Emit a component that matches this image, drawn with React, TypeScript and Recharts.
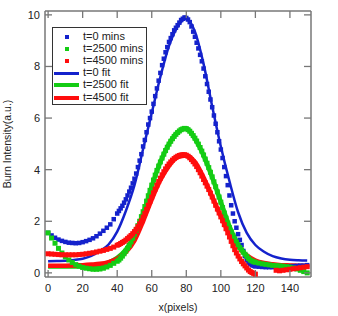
import { ComposedChart, Scatter, Line, XAxis, YAxis } from 'recharts';

// sample positions (pixels) of the measured profiles
const xPixels = [
  0, 2, 4, 6, 8, 10, 12, 14, 16, 18, 20, 22, 24, 26, 28, 30, 32, 34, 36, 38,
  40, 41, 42, 43, 44, 45, 46, 47, 48, 49, 50, 51, 52, 53, 54, 55, 56, 57, 58, 59,
  60, 61, 62, 63, 64, 65, 66, 67, 68, 69, 70, 71, 72, 73, 74, 75, 76, 77, 78, 79,
  80, 81, 82, 83, 84, 85, 86, 87, 88, 89, 90, 91, 92, 93, 94, 95, 96, 97, 98, 99,
  100, 101, 102, 103, 104, 105, 106, 107, 108, 109, 110, 111, 112, 113, 114, 115, 116, 117, 118, 119,
  120, 122, 124, 126, 128, 130, 132, 134, 136, 138, 140, 142, 144, 146, 148, 150,
];

const t0 = [
  1.55, 1.45, 1.36, 1.29, 1.24, 1.2, 1.17, 1.16, 1.15, 1.16, 1.19, 1.23, 1.28, 1.34, 1.42, 1.52, 1.63, 1.75, 1.88, 2.08,
  2.3, 2.4, 2.5, 2.6, 2.72, 2.85, 3.0, 3.15, 3.3, 3.47, 3.65, 3.85, 4.1, 4.35, 4.6, 4.9, 5.15, 5.45, 5.75, 6.0,
  6.25, 6.55, 6.85, 7.15, 7.45, 7.75, 8.05, 8.3, 8.55, 8.75, 8.95, 9.1, 9.25, 9.4, 9.5, 9.6, 9.7, 9.8, 9.85, 9.9,
  9.88, 9.82, 9.72, 9.55, 9.35, 9.15, 8.92, 8.7, 8.45, 8.2, 7.92, 7.62, 7.32, 7.02, 6.72, 6.42, 6.1, 5.78, 5.45, 5.1,
  4.78, 4.45, 4.1, 3.75, 3.4, 3.0, 2.62, 2.3, 2.0, 1.75, 1.5, 1.28, 1.08, 0.85, 0.65, 0.5, 0.4, 0.34, 0.3, 0.27,
  0.25, 0.24, 0.23, 0.22, 0.22, 0.22, 0.23, 0.24, 0.24, 0.25, 0.25, 0.26, 0.27, 0.28, 0.28, 0.3,
];

const t2500 = [
  1.55, 1.35, 1.15, 0.95, 0.77, 0.62, 0.5, 0.4, 0.32, 0.26, 0.21, 0.18, 0.16, 0.14, 0.14, 0.15, 0.18, 0.23, 0.29, 0.37,
  0.45, 0.5, 0.57, 0.65, 0.74, 0.84, 0.95, 1.07, 1.2, 1.34, 1.5, 1.66, 1.83, 2.0, 2.18, 2.37, 2.57, 2.78, 2.99, 3.2,
  3.4, 3.6, 3.79, 3.97, 4.14, 4.3, 4.45, 4.6, 4.74, 4.87, 4.99, 5.1, 5.2, 5.29, 5.37, 5.44, 5.5, 5.55, 5.58, 5.6,
  5.59, 5.55, 5.49, 5.41, 5.32, 5.22, 5.11, 4.99, 4.86, 4.72, 4.57, 4.41, 4.25, 4.08, 3.9, 3.72, 3.53, 3.34, 3.14, 2.94,
  2.74, 2.53, 2.32, 2.12, 1.93, 1.75, 1.59, 1.44, 1.31, 1.19, 1.08, 0.98, 0.89, 0.8, 0.72, 0.64, 0.56, 0.5, 0.46, 0.43,
  0.41, 0.38, 0.35, 0.33, 0.31, 0.29, 0.28, 0.27, 0.26, 0.24, 0.22, 0.19, 0.15, 0.1, 0.05, 0.0,
];

const t4500 = [
  0.74, 0.73, 0.72, 0.71, 0.7, 0.7, 0.7, 0.7, 0.7, 0.71, 0.72, 0.74, 0.76, 0.78, 0.81, 0.84, 0.87, 0.91, 0.95, 1.0,
  1.07, 1.1, 1.14, 1.18, 1.22, 1.27, 1.33, 1.39, 1.45, 1.52, 1.6, 1.69, 1.79, 1.9, 2.02, 2.16, 2.31, 2.46, 2.62, 2.78,
  2.94, 3.1, 3.25, 3.4, 3.54, 3.67, 3.8, 3.92, 4.03, 4.13, 4.22, 4.3, 4.37, 4.43, 4.48, 4.52, 4.55, 4.57, 4.58, 4.58,
  4.56, 4.52, 4.46, 4.39, 4.31, 4.22, 4.12, 4.0, 3.88, 3.75, 3.62, 3.49, 3.36, 3.23, 3.09, 2.94, 2.78, 2.62, 2.47, 2.32,
  2.17, 2.02, 1.87, 1.71, 1.55, 1.39, 1.22, 1.05, 0.9, 0.77, 0.65, 0.54, 0.44, 0.35, 0.27, 0.19, 0.11, 0.05, 0.01, -0.02,
  -0.05, null, null, null, null, null, 0.1, 0.08, 0.1, 0.12, 0.14, 0.16, 0.18, 0.2, 0.22, 0.24,
];

// fitted curves
const fitX = [0, 5, 10, 15, 20, 25, 30, 35, 40, 45, 50, 55, 60, 65, 70, 75, 80, 85, 90, 95, 100, 105, 110, 115, 120, 125, 130, 135, 140, 145, 150];
const fit0 = [0.45, 0.46, 0.47, 0.5, 0.55, 0.66, 0.85, 1.1, 1.6, 2.4, 3.4, 4.8, 6.2, 7.6, 8.8, 9.55, 9.85, 9.35, 8.1, 6.45, 4.9, 3.55, 2.35, 1.55, 1.08, 0.82, 0.65, 0.56, 0.51, 0.49, 0.48];
const fit2500 = [0.25, 0.25, 0.25, 0.25, 0.25, 0.27, 0.3, 0.4, 0.58, 0.9, 1.45, 2.3, 3.35, 4.3, 5.0, 5.45, 5.6, 5.2, 4.55, 3.7, 2.75, 1.8, 1.1, 0.65, 0.45, 0.35, 0.3, 0.28, 0.27, 0.26, 0.25];
const fit4500 = [0.28, 0.28, 0.28, 0.29, 0.3, 0.32, 0.35, 0.42, 0.55, 0.8, 1.25, 2.0, 2.85, 3.6, 4.15, 4.48, 4.55, 4.3, 3.7, 2.95, 2.2, 1.5, 1.02, 0.68, 0.48, 0.38, 0.33, 0.3, 0.29, 0.28, 0.28];

const xTicks = [0, 20, 40, 60, 80, 100, 120, 140];
const yTicks = [0, 2, 4, 6, 8, 10];

const BLUE = '#1422cc';
const GREEN = '#14cc14';
const RED = '#ff0d0d';
const FRAME = '#777';
const FONT = '"Liberation Sans", Arial, sans-serif';

const points = (ys: (number | null)[]) =>
  xPixels.map((x, i) => ({ x, y: ys[i] })).filter((p) => p.y !== null);
const fitPoints = (ys: number[]) => fitX.map((x, i) => ({ x, y: ys[i] }));

const square = (color: string, s: number) => (p: any) =>
  <rect x={p.cx - s / 2} y={p.cy - s / 2} width={s} height={s} fill={color} />;

const BottomTick = ({ x, y, payload }: any) => (
  <g>
    <line x1={x} x2={x} y1={y} y2={y - 7} stroke={FRAME} strokeWidth={1.3} />
    <text x={x} y={y + 15} textAnchor="middle" fontSize={11} fill="#222" fontFamily={FONT}>{payload.value}</text>
  </g>
);
const TopTick = ({ x, y }: any) => <line x1={x} x2={x} y1={y} y2={y + 7} stroke={FRAME} strokeWidth={1.3} />;
const LeftTick = ({ x, y, payload }: any) => (
  <g>
    <line x1={x} x2={x + 7} y1={y} y2={y} stroke={FRAME} strokeWidth={1.3} />
    <text x={x - 5} y={y + 4} textAnchor="end" fontSize={11} fill="#222" fontFamily={FONT}>{payload.value}</text>
  </g>
);
const RightTick = ({ x, y }: any) => <line x1={x} x2={x - 7} y1={y} y2={y} stroke={FRAME} strokeWidth={1.3} />;

const legendRows = [
  { label: 't=0 mins', color: BLUE, kind: 'marker', w: 0 },
  { label: 't=2500 mins', color: GREEN, kind: 'marker', w: 0 },
  { label: 't=4500 mins', color: RED, kind: 'marker', w: 0 },
  { label: 't=0 fit', color: BLUE, kind: 'line', w: 2.5 },
  { label: 't=2500 fit', color: GREEN, kind: 'line', w: 4 },
  { label: 't=4500 fit', color: RED, kind: 'line', w: 4 },
];

const App = () => {
  const axisLine = { stroke: FRAME, strokeWidth: 1.5 };
  return (
    <div style={{ position: 'absolute', left: 0, top: 0, width: 338, height: 316, background: '#fff' }}>
      <ComposedChart width={338} height={316} margin={{ top: 6, right: 22, bottom: 9, left: 5 }}>
        <XAxis dataKey="x" type="number" domain={[-1.8, 152.2]} ticks={xTicks} allowDataOverflow
          height={30} tickSize={0} tickMargin={0} tickLine={false} axisLine={axisLine} tick={<BottomTick />} />
        <XAxis xAxisId="top" orientation="top" dataKey="x" type="number" domain={[-1.8, 152.2]} ticks={xTicks} allowDataOverflow
          height={5} tickSize={0} tickMargin={0} tickLine={false} axisLine={axisLine} tick={<TopTick />} />
        <YAxis type="number" domain={[-0.16, 10.15]} ticks={yTicks} allowDataOverflow
          width={40} tickSize={0} tickMargin={0} tickLine={false} axisLine={axisLine} tick={<LeftTick />} />
        <YAxis yAxisId="right" orientation="right" type="number" domain={[-0.16, 10.15]} ticks={yTicks} allowDataOverflow
          width={5} tickSize={0} tickMargin={0} tickLine={false} axisLine={axisLine} tick={<RightTick />} />

        <Scatter data={points(t0)} dataKey="y" fill={BLUE} shape={square(BLUE, 4.5)} isAnimationActive={false} />
        <Scatter data={points(t2500)} dataKey="y" fill={GREEN} shape={square(GREEN, 5)} isAnimationActive={false} />
        <Scatter data={points(t4500)} dataKey="y" fill={RED} shape={square(RED, 5)} isAnimationActive={false} />

        <Line data={fitPoints(fit0)} dataKey="y" type="monotone" stroke={BLUE} strokeWidth={2.5} dot={false} isAnimationActive={false} />
        <Line data={fitPoints(fit2500)} dataKey="y" type="monotone" stroke={GREEN} strokeWidth={4.5} dot={false} isAnimationActive={false} />
        <Line data={fitPoints(fit4500)} dataKey="y" type="monotone" stroke={RED} strokeWidth={4.5} dot={false} isAnimationActive={false} />
      </ComposedChart>

      <svg width={338} height={316} style={{ position: 'absolute', left: 0, top: 0, pointerEvents: 'none' }}>
        <text transform="translate(11,144) rotate(-90)" textAnchor="middle" fontSize={10.5} fill="#222" fontFamily={FONT}>
          Burn Intensity(a.u.)
        </text>
        <text x={178} y={311} textAnchor="middle" fontSize={10.5} fill="#222" fontFamily={FONT}>x(pixels)</text>
      </svg>

      <div style={{ position: 'absolute', left: 52, top: 27, width: 93, height: 76, border: '1px solid #333', background: '#fff', fontFamily: FONT, fontSize: 11, color: '#222' }}>
        {legendRows.map((r, i) => (
          <div key={r.label} style={{ position: 'absolute', left: 0, top: 9 + i * 12.1 - 6, height: 12, width: 93 }}>
            {r.kind === 'marker' ? (
              <div style={{ position: 'absolute', left: 12, top: 4, width: 4, height: 4, background: r.color }} />
            ) : (
              <div style={{ position: 'absolute', left: 1, top: 6 - r.w / 2, width: 25, height: r.w, background: r.color }} />
            )}
            <div style={{ position: 'absolute', left: 30, top: -1, lineHeight: '13px', whiteSpace: 'nowrap' }}>{r.label}</div>
          </div>
        ))}
      </div>
    </div>
  );
};

export default App;
